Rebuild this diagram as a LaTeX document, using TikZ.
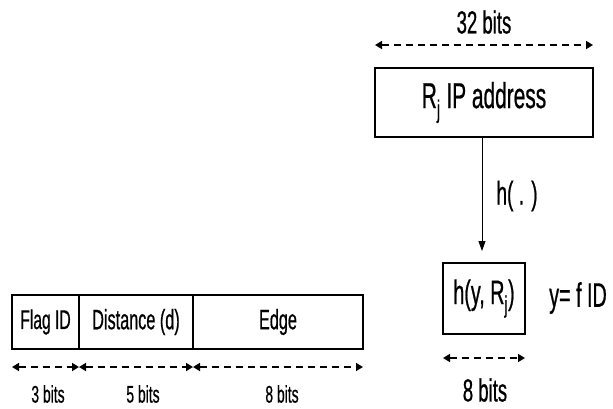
\documentclass[tikz,border=0pt]{standalone}
\usepackage{fontspec}
\setmainfont[FakeStretch=0.58,FakeBold=0.6]{Liberation Sans}
\usetikzlibrary{arrows.meta}
\tikzset{
  box/.style={draw, line width=1.3pt, inner sep=0pt, outer sep=0pt},
  dim/.style={dashed, dash pattern=on 7pt off 5pt, line width=1.7pt, {Triangle[length=7pt,width=8pt]}-{Triangle[length=7pt,width=8pt]}},
  lbl/.style={inner sep=0pt},
}
\begin{document}
\begin{tikzpicture}[x=1pt,y=-1pt]
\useasboundingbox (0,0) rectangle (613,408);
% top box
\node[box, minimum width=218pt, minimum height=69pt, font=\fontsize{36}{36}\selectfont] (ip) at (484,102.5) {R\textsubscript{j} IP address};
\coordinate (ipl) at (375,45);
\coordinate (ipr) at (593,45);
\draw[dim] (ipl) -- (ipr);
\node[lbl, font=\fontsize{32}{32}\selectfont] (b32) at (484,22) {32 bits};
% small box
\node[box, minimum width=82pt, minimum height=71pt, font=\fontsize{34}{34}\selectfont] (hy) at (484,298.5) {h(y, R\textsubscript{j})};
\coordinate (harr) at (482,251);
\draw[line width=0.9pt, -{Triangle[length=10pt,width=7pt]}] (ip.south -| harr) -- (harr);
\node[lbl, font=\fontsize{33}{33}\selectfont] (hdot) at (517,196) {h( . )};
\node[lbl, font=\fontsize{34}{34}\selectfont] (fid) at (578,298) {y= f ID};
\coordinate (hyl) at (443,358);
\coordinate (hyr) at (525,358);
\draw[dim] (hyl) -- (hyr);
\node[lbl, font=\fontsize{32}{32}\selectfont] (b8r) at (485,390) {8 bits};
% bottom-left packet
\node[box, minimum width=67pt, minimum height=54pt, font=\fontsize{27}{27}\selectfont] (flag) at (45.5,322) {Flag ID};
\node[box, minimum width=114pt, minimum height=54pt, font=\fontsize{28}{28}\selectfont] (dist) at (136,322) {Distance (d)};
\node[box, minimum width=170pt, minimum height=54pt, font=\fontsize{28}{28}\selectfont] (edge) at (278,322) {Edge};
\coordinate (a0) at (12,367);
\coordinate (a1) at (79,367);
\coordinate (a2) at (193,367);
\coordinate (a3) at (363,367);
\draw[dim] (a0) -- (a1);
\draw[dim] (a1) -- (a2);
\draw[dim] (a2) -- (a3);
\node[lbl, font=\fontsize{24}{24}\selectfont] (b3) at (48,394) {3 bits};
\node[lbl, font=\fontsize{24}{24}\selectfont] (b5) at (143,394) {5 bits};
\node[lbl, font=\fontsize{24}{24}\selectfont] (b8) at (282,394) {8 bits};
\end{tikzpicture}
\end{document}
